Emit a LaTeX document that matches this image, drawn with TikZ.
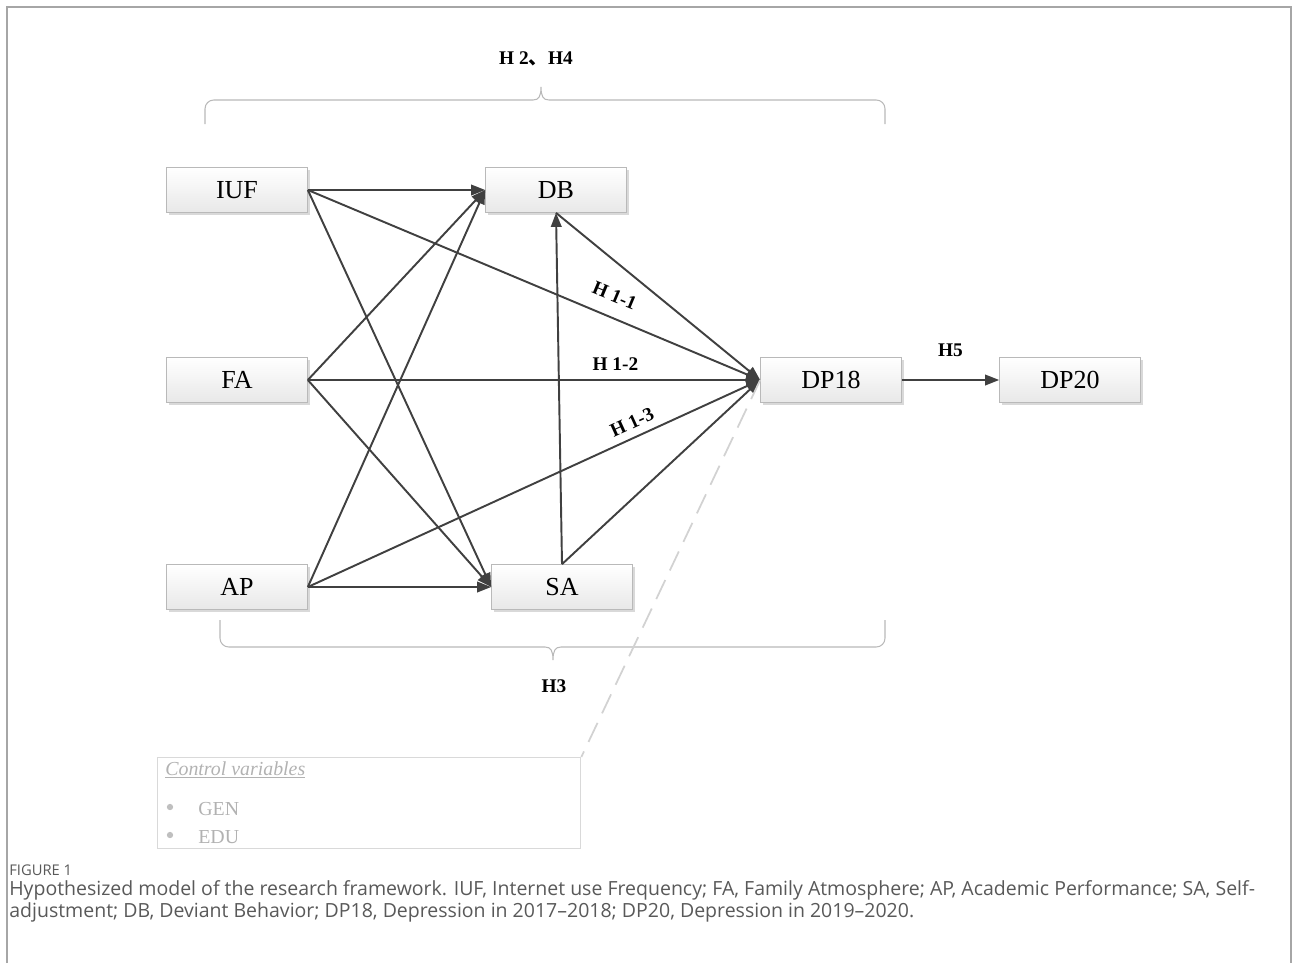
\documentclass[tikz,border=0pt]{standalone}
\usepackage{fontspec}
\setmainfont{Liberation Serif}
\newfontfamily\cjk{Noto Sans CJK SC}
\newfontfamily\capfont{Open Sans}
\usetikzlibrary{arrows.meta,shadows}
\begin{document}
\begin{tikzpicture}[x=0.02cm,y=-0.02cm,
    varbox/.style={draw=gray!55,top color=white,bottom color=gray!18,
      minimum width=2.82cm,minimum height=0.9cm,inner sep=0pt,
      font=\fontsize{14.8}{16}\selectfont,
      drop shadow={shadow xshift=1.2pt,shadow yshift=-1.2pt,opacity=0.3}},
    link/.style={draw=black!75,line width=1.1pt,-{Triangle[length=8pt,width=6pt]}},
    hlabel/.style={font=\fontsize{11}{12}\selectfont\bfseries,inner sep=1pt},
    brace/.style={draw=gray!55,line width=0.6pt,rounded corners=5pt},
    ctrltext/.style={text=gray!60,font=\fontsize{11.3}{13}\selectfont,inner sep=0pt,anchor=base west}]
    \useasboundingbox (0,0) rectangle (1293,963);
    \draw [gray!70,line width=1pt] (7,963) -- (7,7) -- (1291,7) -- (1291,963);
    \node [varbox] (IUF) at (237,190) {IUF};
    \node [varbox] (DB) at (556,190) {DB};
    \node [varbox] (FA) at (237,380) {FA};
    \node [varbox] (DP18) at (831,380) {DP18};
    \node [varbox] (DP20) at (1070,380) {DP20};
    \node [varbox] (AP) at (237,587) {AP};
    \node [varbox] (SA) at (562,587) {SA};
    \draw [brace] (205,124) |- (533,100);
    \draw [brace] (885,124) |- (549,100);
    \draw [brace,rounded corners=0pt] (533,100) .. controls (539,100) and (541,96) .. (541,87) .. controls (541,96) and (543,100) .. (549,100);
    \node [hlabel] (h24) at (536,59) {H 2{\cjk 、}H4};
    \draw [brace] (220,620) |- (545,647);
    \draw [brace] (885,620) |- (561,647);
    \draw [brace,rounded corners=0pt] (545,647) .. controls (551,647) and (553,651) .. (553,660) .. controls (553,651) and (555,647) .. (561,647);
    \node [hlabel] (h3) at (554,686) {H3};
    \draw [link] (IUF.east) -- (DB.west);
    \draw [link] (IUF.east) -- (SA.west);
    \draw [link] (IUF.east) -- node [hlabel,sloped,above=7pt,pos=0.66] (h11) {H 1-1} (DP18.west);
    \draw [link] (FA.east) -- (DB.west);
    \draw [link] (FA.east) -- node [hlabel,above=4pt,pos=0.68] (h12) {H 1-2} (DP18.west);
    \draw [link] (FA.east) -- (SA.west);
    \draw [link] (AP.east) -- (DB.west);
    \draw [link] (AP.east) -- node [hlabel,sloped,above=3pt,pos=0.73] (h13) {H 1-3} (DP18.west);
    \draw [link] (AP.east) -- (SA.west);
    \draw [link] (SA.north) -- (DB.south);
    \draw [link] (DB.south) -- (DP18.west);
    \draw [link] (SA.north) -- (DP18.west);
    \draw [link] (DP18.east) -- node [hlabel,above=12pt] (h5) {H5} (DP20.west);
    \node [draw=gray!30,line width=0.8pt,minimum width=8.46cm,minimum height=1.82cm,anchor=north west,inner sep=0pt] (ctrl) at (157,757) {};
    \draw [gray!35,line width=1pt,dash pattern=on 12pt off 6pt] (DP18.west) -- (ctrl.north east);
    \node [ctrltext,font=\fontsize{11.3}{13}\selectfont\itshape] (ctrlhead) at (165,775) {\underline{Control variables}};
    \fill [gray!50] (170,807) circle (1.8pt);
    \node [ctrltext] (gen) at (198,815) {GEN};
    \fill [gray!50] (170,835) circle (1.8pt);
    \node [ctrltext] (edu) at (198,843) {EDU};
    \node [anchor=north west,inner sep=0pt,text=black!65,font=\capfont\fontsize{8.4}{9}\selectfont] (fig) at (9,864) {FIGURE 1};
    \node [anchor=north west,inner sep=0pt,align=left,text=black!65,font=\capfont\fontsize{11.1}{12.5}\selectfont] (cap) at (9,880) {Hypothesized model of the research framework. IUF, Internet use Frequency; FA, Family Atmosphere; AP, Academic Performance; SA, Self-\\adjustment; DB, Deviant Behavior; DP18, Depression in 2017–2018; DP20, Depression in 2019–2020.};
\end{tikzpicture}
\end{document}
